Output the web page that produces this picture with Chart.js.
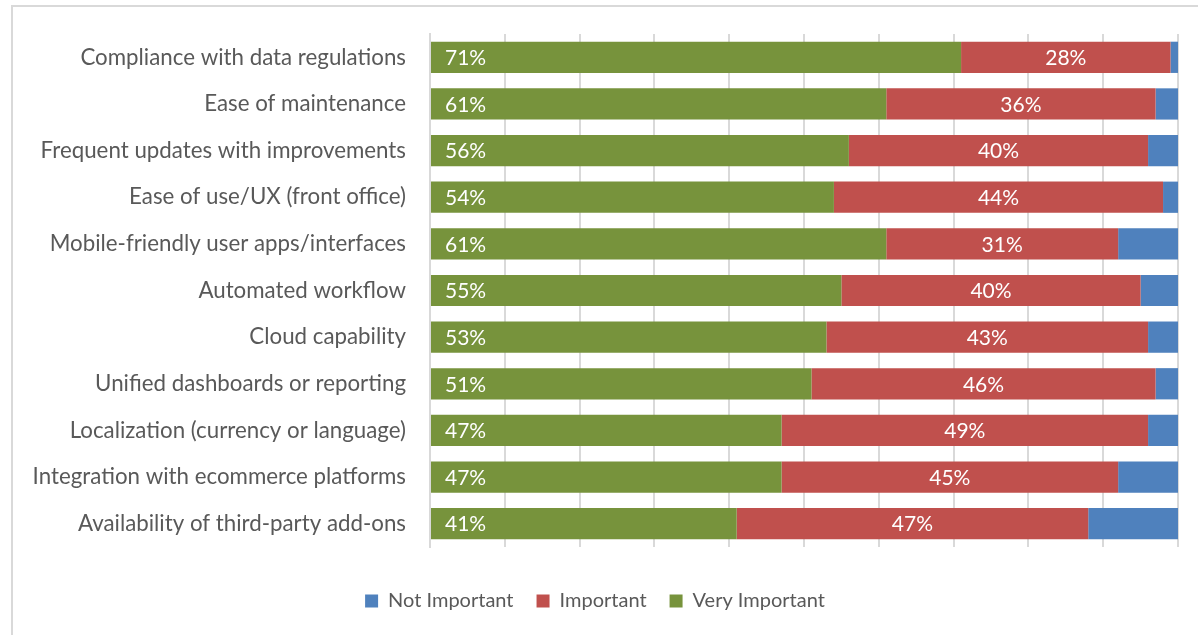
<!DOCTYPE html>
<html>
<head>
<meta charset="utf-8">
<script src="https://cdn.jsdelivr.net/npm/chart.js@4.4.0/dist/chart.umd.min.js"></script>
<style>
  html, body { margin: 0; padding: 0; background: #fff; }
  #wrap { position: relative; width: 1198px; height: 635px; overflow: hidden; }
  #frame { position: absolute; left: 11px; top: 5px; width: 1300px; height: 700px; border: 2px solid #d9d9d9; box-sizing: border-box; }
  canvas { position: absolute; left: 0; top: 0; }
</style>
</head>
<body>
<div id="wrap">
  <div id="frame"></div>
  <canvas id="c" width="1198" height="635"></canvas>
</div>
<script>
const categories = [
  "Compliance with data regulations",
  "Ease of maintenance",
  "Frequent updates with improvements",
  "Ease of use/UX (front office)",
  "Mobile-friendly user apps/interfaces",
  "Automated workflow",
  "Cloud capability",
  "Unified dashboards or reporting",
  "Localization (currency or language)",
  "Integration with ecommerce platforms",
  "Availability of third-party add-ons"
];
const veryImportant = [71, 61, 56, 54, 61, 55, 53, 51, 47, 47, 41];
const important     = [28, 36, 40, 44, 31, 40, 43, 46, 49, 45, 47];
const notImportant  = [1, 3, 4, 2, 8, 5, 4, 3, 4, 8, 12];
const seriesNames = ["Very Important", "Important", "Not Important"];

const FONT = "Lato, 'Open Sans', sans-serif";
const TEXT = "#595959";

const labelPlugin = {
  id: 'barLabels',
  afterDatasetsDraw(chart) {
    const ctx = chart.ctx;
    ctx.save();
    ctx.font = "21px " + FONT;
    ctx.fillStyle = "#ffffff";
    ctx.textBaseline = "middle";
    chart.getDatasetMeta(0).data.forEach((el, i) => {
      ctx.textAlign = "left";
      ctx.fillText(veryImportant[i] + "%", el.base + 14, el.y + 1);
    });
    chart.getDatasetMeta(1).data.forEach((el, i) => {
      ctx.textAlign = "center";
      ctx.fillText(important[i] + "%", (el.base + el.x) / 2, el.y + 1);
    });
    ctx.restore();
  }
};

new Chart(document.getElementById('c'), {
  type: 'bar',
  data: {
    labels: categories,
    datasets: [
      { label: seriesNames[0], data: veryImportant, backgroundColor: "#77933C" },
      { label: seriesNames[1], data: important, backgroundColor: "#C0504D" },
      { label: seriesNames[2], data: notImportant, backgroundColor: "#4F81BD" }
    ]
  },
  options: {
    indexAxis: 'y',
    responsive: false,
    animation: false,
    devicePixelRatio: 1,
    datasets: { bar: { categoryPercentage: 1, barPercentage: 0.67 } },
    layout: { padding: { top: 34, left: 12, right: 20, bottom: 14 } },
    scales: {
      x: {
        stacked: true, min: 0, max: 100,
        afterFit(s) { s.height = 21; s.paddingLeft = 0; s.paddingRight = 0; },
        ticks: { display: false, stepSize: 10 },
        grid: { color: "#d9d9d9", lineWidth: 2, drawTicks: false },
        border: { display: false }
      },
      y: {
        stacked: true,
        afterFit(s) { s.width = 418; s.paddingTop = 0; s.paddingBottom = 0; },
        ticks: { color: TEXT, font: { family: FONT, size: 22.3 }, padding: 24 },
        grid: { display: false, drawTicks: false },
        border: { display: true, color: "#d9d9d9", width: 2 }
      }
    },
    plugins: {
      legend: {
        position: 'bottom', reverse: true,
        labels: { boxWidth: 13, boxHeight: 13, color: TEXT, font: { family: FONT, size: 20 }, padding: 23 }
      },
      tooltip: { enabled: false }
    }
  },
  plugins: [labelPlugin]
});
</script>
</body>
</html>
